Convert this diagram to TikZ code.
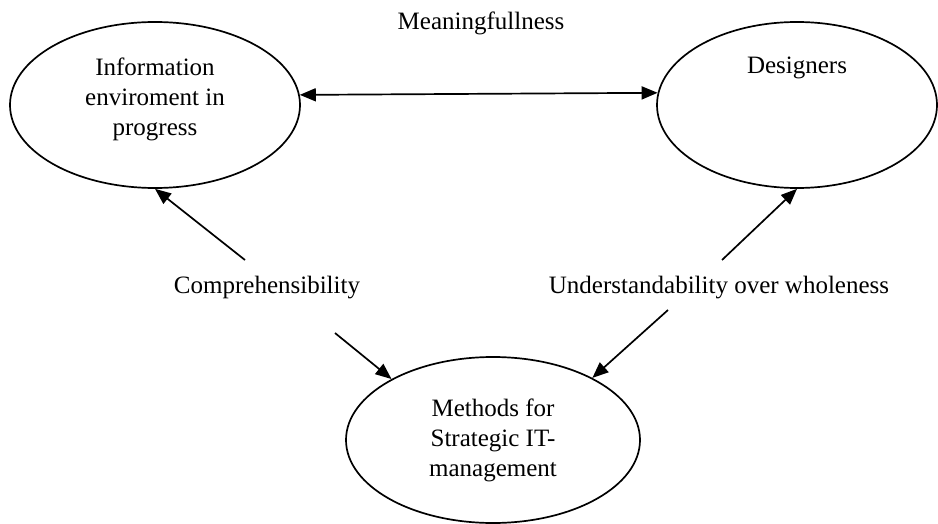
\documentclass[tikz,border=0pt]{standalone}
\usepackage{fontspec}
\setmainfont{Liberation Serif}
\usetikzlibrary{shapes.geometric,arrows.meta}
\begin{document}
\begin{tikzpicture}[x=1pt,y=-1pt,
  bubble/.style={ellipse, draw, line width=1.7pt, inner sep=0pt, align=center,
    font=\fontsize{25}{30}\selectfont},
  lbl/.style={font=\fontsize{25}{30}\selectfont, inner sep=0pt, align=center},
  tip/.style={Triangle[length=16pt,width=13pt]},
  link/.style={line width=1.7pt, -{Triangle[length=16pt,width=13pt]}},
  dlink/.style={line width=1.7pt, {Triangle[length=16pt,width=13pt]}-{Triangle[length=16pt,width=13pt]}}]
\useasboundingbox (0,0) rectangle (938,524);

% the three bubbles
\node[bubble, minimum width=290pt, minimum height=166pt] (info) at (155,105) {};
\node[lbl] (infotext) at (155,99) {Information\\enviroment in\\progress};
\node[bubble, minimum width=280pt, minimum height=166pt] (des) at (797,105) {};
\node[lbl] (destext) at (797,68) {Designers};
\node[bubble, minimum width=294pt, minimum height=166pt] (meth) at (493,440)
  {Methods for\\Strategic IT-\\management};

% relation labels
\node[lbl] (mean) at (481,23) {Meaningfullness};
\node[lbl] (comp) at (267,288) {Comprehensibility};
\node[lbl] (under) at (719,288) {Understandability over wholeness};

% free ends of the broken arrows
\coordinate (c1) at (245,260);
\coordinate (c2) at (335,333);
\coordinate (u1) at (722,260);
\coordinate (u2) at (668,310);

% connectors
\draw[dlink] (info.4.8) -- (des.175.1);
\draw[link] (c1) -- (info.south);
\draw[link] (c2) -- (meth.149);
\draw[link] (u1) -- (des.south);
\draw[link] (u2) -- (meth.32);
\end{tikzpicture}
\end{document}
